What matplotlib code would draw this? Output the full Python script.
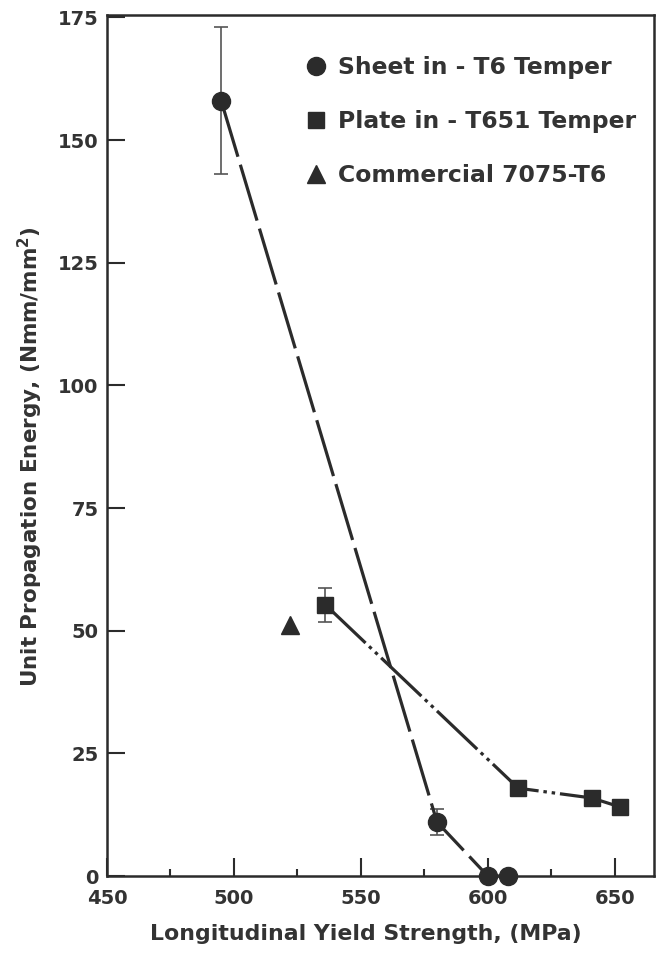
import matplotlib
matplotlib.use("Agg")
import matplotlib.pyplot as plt
from matplotlib.lines import Line2D

plt.rcParams['font.family'] = ['DejaVu Sans']
plt.rcParams['font.weight'] = 'bold'
plt.rcParams['lines.scale_dashes'] = False

# Data
sheet_x = [495, 580, 600, 608]
sheet_y = [158, 11, 0, 0]
sheet_err_lo = [15, 2.6, 0, 0]
sheet_err_hi = [15, 2.7, 0, 0]

plate_x = [536, 612, 641, 652]
plate_y = [55.3, 17.9, 15.9, 14.1]
plate_err_lo = [3.5, 0, 0, 0]
plate_err_hi = [3.4, 0, 0, 0]

comm_x = [522]
comm_y = [51.2]

labels = ["Sheet in - T6 Temper", "Plate in - T651 Temper", "Commercial 7075-T6"]
xticks = [450, 500, 550, 600, 650]
xminor = [475, 525, 575, 625]
yticks = [0, 25, 50, 75, 100, 125, 150, 175]

ink = '#2b2b2b'
W, H = 657, 960
fig = plt.figure(figsize=(W / 100, H / 100), dpi=100)
ax = fig.add_axes([107 / W, (960 - 876) / H, (654 - 107) / W, (876 - 15) / H])

ax.errorbar(sheet_x, sheet_y, yerr=[sheet_err_lo, sheet_err_hi], fmt='none',
            ecolor='#555555', elinewidth=1.2, capsize=5, capthick=1.2, zorder=2)
ax.errorbar(plate_x, plate_y, yerr=[plate_err_lo, plate_err_hi], fmt='none',
            ecolor='#555555', elinewidth=1.2, capsize=5, capthick=1.2, zorder=2)

l1, = ax.plot(sheet_x, sheet_y, color=ink, lw=2.3, marker='o', ms=13,
              clip_on=False, zorder=3)
l1.set_dashes([42, 6])
l2, = ax.plot(plate_x, plate_y, color=ink, lw=2.3, marker='s', ms=12,
              clip_on=False, zorder=3)
l2.set_dashes([40, 3.5, 2.5, 3.5, 2.5, 3.5])
ax.plot(comm_x, comm_y, color=ink, lw=0, marker='^', ms=13, zorder=3)

ax.set_xlim(450, 665.5)
ax.set_ylim(0, 175.5)
ax.set_xticks(xticks)
ax.set_xticks(xminor, minor=True)
ax.set_yticks(yticks)
ax.tick_params(axis='both', which='major', direction='in', length=13, width=1.5,
               colors=ink, labelsize=14, pad=6)
ax.tick_params(axis='x', which='minor', direction='in', length=5, width=1.5, colors=ink)
ax.tick_params(axis='x', which='major', pad=9)
for lab in ax.get_xticklabels() + ax.get_yticklabels():
    lab.set_fontweight('bold')
    lab.set_color('#333333')
for s in ax.spines.values():
    s.set_linewidth(1.8)
    s.set_color(ink)

ax.set_xlabel("Longitudinal Yield Strength, (MPa)", fontsize=15.8, fontweight='bold',
              color='#333333')
ax.xaxis.set_label_coords((366 - 107) / 547, (876 - 924) / 861)
ax.set_ylabel("Unit Propagation Energy, (Nmm/mm$^{\\mathbf{2}}$)", fontsize=15.5,
              fontweight='bold', color='#333333')
ax.yaxis.set_label_coords((45 - 107) / 547, (876 - 457) / 861)

handles = [Line2D([], [], color=ink, marker='o', ms=13, lw=0),
           Line2D([], [], color=ink, marker='s', ms=12, lw=0),
           Line2D([], [], color=ink, marker='^', ms=13, lw=0)]
leg = ax.legend(handles, labels, loc='upper left',
                bbox_to_anchor=((304 - 107) / (654 - 107), 1 - (56 - 15) / (876 - 15)),
                frameon=False, handlelength=1.0, handletextpad=0.45, labelspacing=1.33,
                borderpad=0, borderaxespad=0,
                prop={'weight': 'bold', 'size': 16.9})
for t in leg.get_texts():
    t.set_color('#333333')

fig.savefig("out.png", dpi=100)
